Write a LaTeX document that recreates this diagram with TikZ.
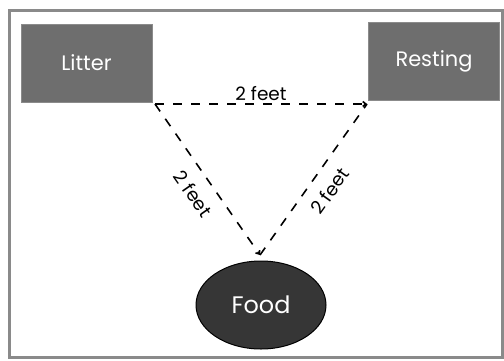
\documentclass[tikz,border=0pt]{standalone}
\usepackage{fontspec}
\setmainfont{Poppins}
\usetikzlibrary{arrows.meta,shapes.geometric}
\definecolor{boxgray}{HTML}{6E6E6E}
\definecolor{fooddark}{HTML}{363636}
\definecolor{framegray}{HTML}{8A8A8A}
\tikzset{
  place/.style={fill=boxgray, draw=boxgray!80!white, line width=0.8bp, minimum width=131bp, minimum height=78bp, inner sep=0pt, text=white, font=\fontsize{21}{24}\selectfont},
  foodnode/.style={ellipse, fill=fooddark, draw=black, line width=1bp, minimum width=130bp, minimum height=88bp, inner sep=0pt, text=white, font=\fontsize{24}{28}\selectfont},
  link/.style={dash pattern=on 9bp off 9bp, line width=1.6bp, black},
  tipped/.style={-{Straight Barb[length=3bp,width=5bp]}},
  lbl/.style={font=\fontsize{18.5}{21}\selectfont, inner sep=1bp}
}
\begin{document}
\begin{tikzpicture}[x=1bp,y=1bp]
\useasboundingbox (0,0) rectangle (504,360);
\fill[white] (0,0) rectangle (504,360);
\draw[framegray, line width=3bp] (9.5,3) rectangle (502.5,349.5);
\node[place] (litter) at (86.5,297) {Litter};
\node[place] (resting) at (434,299) {Resting};
\node[foodnode] (food) at (261,55) {Food};
\coordinate (a) at (155,256);
\coordinate (b) at (367,256);
\coordinate (c) at (260,105);
\draw[link, tipped] (a) -- (b) node[midway, above=2bp, lbl] {2 feet};
\draw[link, tipped] (a) -- (c) node[pos=0.52, sloped, below=11bp, lbl] {2 feet};
\draw[link] (c) -- (b) node[pos=0.5, sloped, below=11bp, lbl] {2 feet};
\end{tikzpicture}
\end{document}
